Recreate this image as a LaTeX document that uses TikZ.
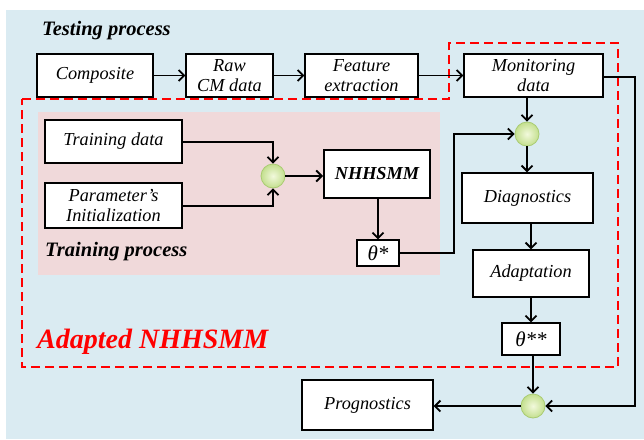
\documentclass[tikz,border=0pt]{standalone}
\usepackage{fontspec}
\setmainfont{Liberation Serif}
\usetikzlibrary{arrows.meta}
\definecolor{bgblue}{HTML}{DAEBF2}
\definecolor{bgpink}{HTML}{F0D9DA}
\definecolor{ballin}{HTML}{F2F9DC}
\definecolor{ballout}{HTML}{C3DF8E}
\definecolor{ballrim}{HTML}{A9CB72}
\tikzset{
  box/.style={draw=black, line width=1.4pt, fill=white, inner sep=1pt,
    align=center, font=\fontsize{18.3}{20.5}\selectfont\itshape},
  junction/.style={circle, minimum size=24pt, inner sep=0pt, draw=ballrim,
    line width=0.8pt, inner color=ballin, outer color=ballout},
  flow/.style={line width=1.8pt, -{Straight Barb[length=5.5pt,width=11pt,line width=1.8pt]}},
  redframe/.style={draw=red, line width=2.6pt, dash pattern=on 9pt off 5pt},
  heading/.style={font=\fontsize{20.5}{22}\selectfont\bfseries\itshape, inner sep=0pt, anchor=base west},
  thetabox/.style={box, font=\fontsize{21}{22}\selectfont\itshape}
}
\begin{document}
\begin{tikzpicture}[x=1pt, y=-1pt]
\useasboundingbox (0,0) rectangle (644,439);
% backdrop and training panel
\fill[bgblue] (6,10) rectangle (644,439);
\fill[bgpink] (38,112) rectangle (440,275);

% adapted-model frame
\draw[redframe] (22,99) -- (449,99) -- (449,43) -- (618,43) -- (618,367) -- (22,367) -- cycle;

% testing chain
\node[box, minimum width=116pt, minimum height=43pt] (comp) at (95,75.5) {Composite};
\node[box, minimum width=87pt, minimum height=43pt] (raw) at (229.5,75.5) {Raw\\CM data};
\node[box, minimum width=113pt, minimum height=43pt] (feat) at (361.5,75.5) {Feature\\extraction};
\node[box, minimum width=139pt, minimum height=43pt] (mon) at (533.5,75.5) {Monitoring\\data};

% training chain
\node[box, minimum width=137pt, minimum height=43pt] (train) at (113.5,141.5) {Training data};
\node[box, minimum width=137pt, minimum height=45pt] (param) at (113.5,205.5) {Parameter's\\Initialization};
\node[junction] (c1) at (273,176) {};
\node[box, line width=2pt, minimum width=106pt, minimum height=48pt, font=\fontsize{18.3}{20.5}\selectfont\bfseries\itshape] (nhh) at (377,174) {NHHSMM};
\node[thetabox, minimum width=42pt, minimum height=26pt] (th1) at (378,253) {θ*};

% adaptation chain
\node[junction] (c2) at (527,134) {};
\node[box, minimum width=131pt, minimum height=50pt] (diag) at (527.5,198) {Diagnostics};
\node[box, minimum width=116pt, minimum height=47pt] (adapt) at (531,273.5) {Adaptation};
\node[thetabox, minimum width=58pt, minimum height=32pt] (th2) at (531,339) {θ**};
\node[junction] (c3) at (533,406) {};
\node[box, minimum width=131pt, minimum height=50pt] (prog) at (367.5,405) {Prognostics};

% headings
\node[heading] (tlab) at (42,35) {Testing process};
\node[heading] (trlab) at (45,256) {Training process};
\node[heading, text=red, font=\fontsize{28}{30}\selectfont\bfseries\itshape] (alab) at (37,348) {Adapted NHHSMM};

% corner points for the routed connectors
\coordinate (t1) at (273,142);
\coordinate (p1) at (273,206);
\coordinate (k1) at (454,253);
\coordinate (k2) at (454,134);
\coordinate (m1) at (635,77);
\coordinate (m2) at (635,406);

% connectors
\draw[flow] (comp) -- (raw);
\draw[flow] (raw) -- (feat);
\draw[flow] (feat) -- (mon);
\draw[flow] (train.east |- t1) -- (t1) -- (c1.north);
\draw[flow] (param.east |- p1) -- (p1) -- (c1.south);
\draw[flow] (c1) -- (nhh.west |- c1);
\draw[flow] (nhh.south -| th1) -- (th1.north);
\draw[flow] (th1.east) -- (k1) -- (k2) -- (c2.west);
\draw[flow] (mon.south -| c2) -- (c2.north);
\draw[flow] (c2.south) -- (diag.north -| c2);
\draw[flow] (diag.south -| adapt) -- (adapt.north);
\draw[flow] (adapt.south -| th2) -- (th2.north);
\draw[flow] (th2.south -| c3) -- (c3.north);
\draw[flow] (mon.east |- m1) -- (m1) -- (m2) -- (c3.east);
\draw[flow] (c3.west) -- (prog.east |- c3);
\end{tikzpicture}
\end{document}
